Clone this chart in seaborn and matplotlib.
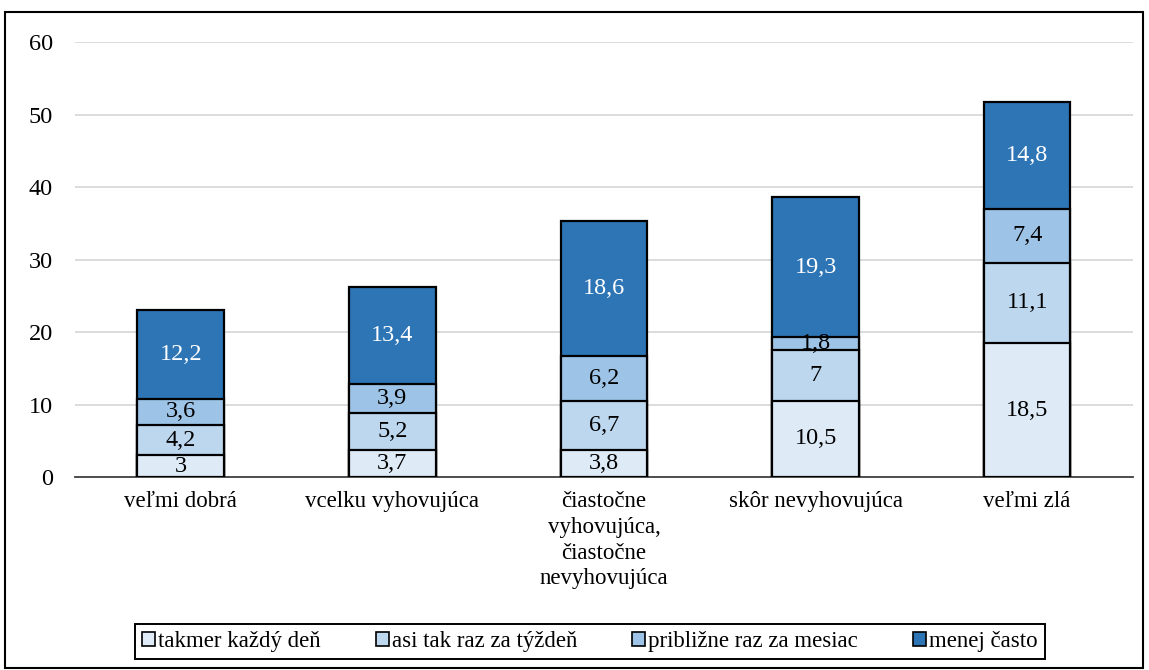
import matplotlib
matplotlib.use("Agg")
import matplotlib.pyplot as plt
import seaborn as sns
import numpy as np
import pandas as pd
from matplotlib.patches import Patch, Rectangle

categories = ["veľmi dobrá", "vcelku vyhovujúca",
              "čiastočne\nvyhovujúca,\nčiastočne\nnevyhovujúca",
              "skôr nevyhovujúca", "veľmi zlá"]
series_names = ["takmer každý deň", "asi tak raz za týždeň",
                "približne raz za mesiac", "menej často"]
takmer = [3, 3.7, 3.8, 10.5, 18.5]
asi = [4.2, 5.2, 6.7, 7, 11.1]
priblizne = [3.6, 3.9, 6.2, 1.8, 7.4]
menej = [12.2, 13.4, 18.6, 19.3, 14.8]
colors = ["#DEEBF7", "#BDD7EE", "#9DC3E6", "#2E75B6"]
text_colors = ["black", "black", "black", "white"]
yticks = [0, 10, 20, 30, 40, 50, 60]

sns.set_theme(style="white")
plt.rcParams["font.family"] = ["Liberation Serif", "DejaVu Serif"]

fig = plt.figure(figsize=(11.49, 6.70), dpi=100)
ax = fig.add_axes([0.0653, 0.288, 0.9207, 0.649])

layers = [takmer, asi, priblizne, menej]
cum = np.cumsum(np.array(layers), axis=0)

for i in reversed(range(len(layers))):
    df = pd.DataFrame({"cat": categories, "val": cum[i]})
    sns.barplot(data=df, x="cat", y="val", color=colors[i], saturation=1,
                edgecolor="black", linewidth=1.6, width=0.41, ax=ax, zorder=3)

for i, layer in enumerate(layers):
    base = cum[i] - np.array(layer)
    for j, v in enumerate(layer):
        lab = ("%g" % v).replace(".", ",")
        ax.text(j, base[j] + v / 2, lab, ha="center", va="center",
                fontsize=17.5, color=text_colors[i], zorder=5)

ax.set_ylim(0, 60)
ax.set_xlim(-0.5, 4.5)
ax.set_yticks(yticks)
ax.set_yticklabels([str(t) for t in yticks], fontsize=17.5, color="black")
ax.tick_params(axis="x", labelsize=16.5, labelcolor="black", length=0, pad=10)
ax.tick_params(axis="y", length=0, pad=16)
ax.set_xlabel("")
ax.set_ylabel("")
ax.yaxis.grid(True, color="#D9D9D9", linewidth=1.3, zorder=0)
ax.set_axisbelow(True)
for s in ["top", "right", "left"]:
    ax.spines[s].set_visible(False)
ax.spines["bottom"].set_color("#404040")
ax.spines["bottom"].set_linewidth(1.3)
for lbl in ax.get_xticklabels():
    lbl.set_linespacing(1.3)

handles = [Patch(facecolor=c, edgecolor="black", linewidth=1.2) for c in colors]
leg = fig.legend(handles, series_names, loc="center", bbox_to_anchor=(0.5135, 0.042),
                 ncol=4, fontsize=16.5, frameon=True, fancybox=False, framealpha=1,
                 edgecolor="black",
                 handlelength=0.55, handleheight=0.55, handletextpad=0.15,
                 columnspacing=2.4, borderpad=0.3)
leg.get_frame().set_linewidth(1.4)
for t in leg.get_texts():
    t.set_color("black")

fig.patches.append(Rectangle((0.004, 0.003), 0.991, 0.979, transform=fig.transFigure,
                             fill=False, edgecolor="black", linewidth=1.5))

fig.savefig("out.png", dpi=100)
